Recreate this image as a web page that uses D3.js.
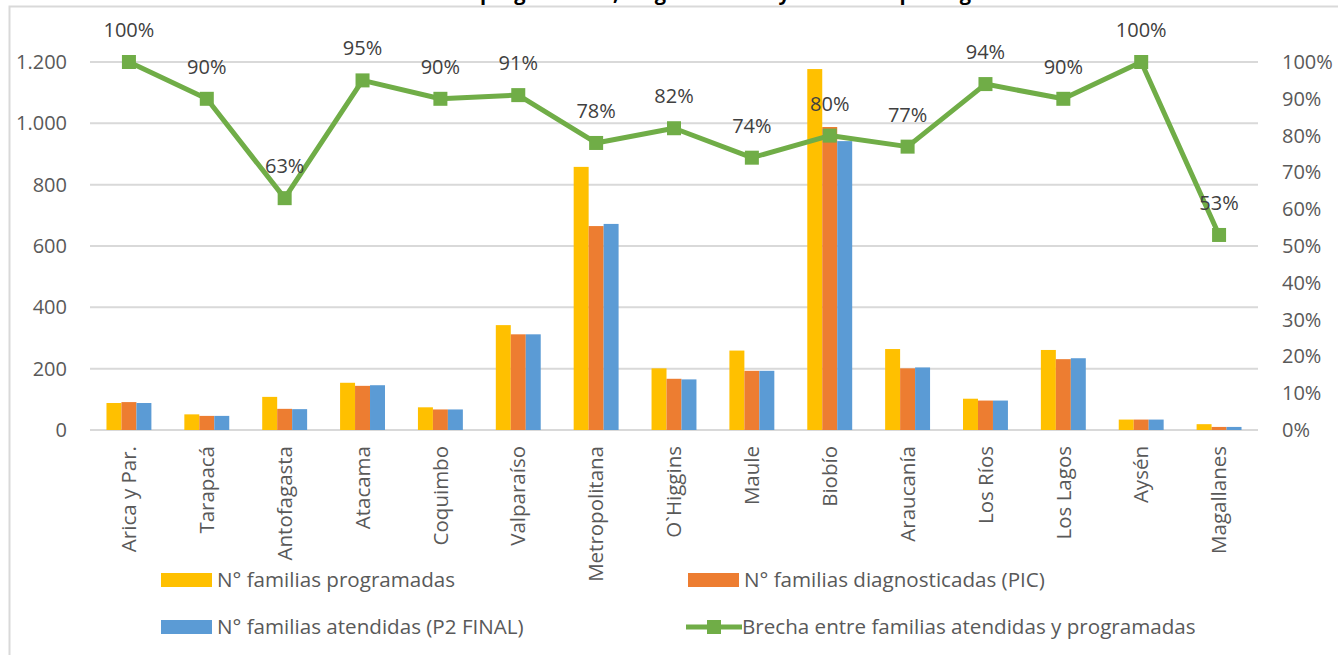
<!DOCTYPE html>
<html lang="es">

<head>
    <meta charset="UTF-8">
    <title>Familias por región</title>
    <script src="https://d3js.org/d3.v7.min.js"></script>
    <style>
        body {
            margin: 0;
            padding: 0;
            background-color: #fff;
            overflow: hidden;
        }

        #chart text {
            font-family: "Open Sans", sans-serif;
        }

        .tick-label {
            font-size: 20px;
            fill: #595959;
        }

        .cat-label {
            font-size: 20.5px;
            fill: #595959;
        }

        .data-label {
            font-size: 20px;
            fill: #404040;
            text-anchor: middle;
        }

        .legend-label {
            font-size: 20.6px;
            fill: #595959;
        }
    </style>
</head>

<body>
    <svg id="chart" width="1338" height="655"></svg>
    <script>
        // Chart data
        const regiones = ["Arica y Par.", "Tarapacá", "Antofagasta", "Atacama", "Coquimbo", "Valparaíso",
            "Metropolitana", "O`Higgins", "Maule", "Biobío", "Araucanía", "Los Ríos", "Los Lagos", "Aysén", "Magallanes"];
        const programadas = [88, 51, 108, 154, 74, 342, 858, 201, 259, 1177, 264, 102, 261, 34, 19];
        const diagnosticadas = [91, 46, 69, 144, 67, 312, 665, 167, 193, 988, 201, 96, 231, 34, 10];
        const atendidas = [88, 46, 68, 146, 67, 312, 672, 165, 193, 942, 204, 96, 234, 34, 10];
        const brecha = [1.00, 0.90, 0.63, 0.95, 0.90, 0.91, 0.78, 0.82, 0.74, 0.80, 0.77, 0.94, 0.90, 1.00, 0.53];
        const leftTicks = [0, 200, 400, 600, 800, 1000, 1200];
        const rightTicks = [0, 0.1, 0.2, 0.3, 0.4, 0.5, 0.6, 0.7, 0.8, 0.9, 1.0];

        const seriesNames = ["N° familias programadas", "N° familias diagnosticadas (PIC)", "N° familias atendidas (P2 FINAL)"];
        const lineName = "Brecha entre familias atendidas y programadas";
        const colors = ["#FFC000", "#ED7D31", "#5B9BD5"];
        const green = "#70AD47";
        const title = "N° de familias programadas, diagnosticadas y atendidas por región";

        const svg = d3.select("#chart");
        const plotLeft = 90, plotRight = 1258, plotTop = 62, plotBottom = 430;

        const x = d3.scaleBand().domain(regiones).range([plotLeft, plotRight]);
        const xSub = d3.scaleBand().domain(d3.range(3)).range([0, x.bandwidth()]).paddingOuter(1.1);
        const y = d3.scaleLinear().domain([0, 1200]).range([plotBottom, plotTop]);
        const y2 = d3.scaleLinear().domain([0, 1]).range([plotBottom, plotTop]);

        // title (cut off at the top, as in the original) and chart border
        svg.append("text")
            .attr("x", 669).attr("y", 0)
            .attr("text-anchor", "middle")
            .style("font-size", "20px").style("font-weight", "bold").style("fill", "#000")
            .text(title);
        svg.append("path")
            .attr("d", "M9.5,655 V6.5 H1338")
            .attr("fill", "none").attr("stroke", "#D9D9D9").attr("stroke-width", 2);

        // gridlines
        svg.append("g")
            .selectAll("line")
            .data(leftTicks)
            .join("line")
            .attr("x1", plotLeft).attr("x2", plotRight)
            .attr("y1", d => y(d)).attr("y2", d => y(d))
            .attr("stroke", "#D9D9D9").attr("stroke-width", 2);

        // left axis
        const yAxis = svg.append("g")
            .attr("transform", `translate(${plotLeft},0)`)
            .call(d3.axisLeft(y).tickValues(leftTicks).tickSize(0).tickPadding(23)
                .tickFormat(d => d3.format(",")(d).replace(",", ".")));
        yAxis.select(".domain").remove();
        yAxis.selectAll("text").attr("class", "tick-label").attr("fill", null);

        // right axis
        const y2Axis = svg.append("g")
            .attr("transform", `translate(${plotRight},0)`)
            .call(d3.axisRight(y2).tickValues(rightTicks).tickSize(0).tickPadding(24)
                .tickFormat(d3.format(".0%")));
        y2Axis.select(".domain").remove();
        y2Axis.selectAll("text").attr("class", "tick-label").attr("fill", null);

        // bars
        const series = [programadas, diagnosticadas, atendidas];
        series.forEach((vals, s) => {
            svg.append("g")
                .selectAll("rect")
                .data(vals)
                .join("rect")
                .attr("x", (d, i) => x(regiones[i]) + xSub(s))
                .attr("width", xSub.bandwidth())
                .attr("y", d => y(d))
                .attr("height", d => y(0) - y(d))
                .attr("fill", colors[s]);
        });

        // category labels
        svg.append("g")
            .selectAll("text")
            .data(regiones)
            .join("text")
            .attr("class", "cat-label")
            .attr("transform", d => `translate(${x(d) + x.bandwidth() / 2},446) rotate(-90)`)
            .attr("text-anchor", "end")
            .attr("dy", "0.35em")
            .text(d => d);

        // line series
        const cx = (d, i) => x(regiones[i]) + x.bandwidth() / 2;
        const line = d3.line().x(cx).y(d => y2(d));
        svg.append("path")
            .datum(brecha)
            .attr("d", line)
            .attr("fill", "none")
            .attr("stroke", green)
            .attr("stroke-width", 5)
            .attr("stroke-linejoin", "round");
        svg.append("g")
            .selectAll("rect")
            .data(brecha)
            .join("rect")
            .attr("x", (d, i) => cx(d, i) - 7)
            .attr("y", d => y2(d) - 7)
            .attr("width", 14).attr("height", 14)
            .attr("fill", green);
        svg.append("g")
            .selectAll("text")
            .data(brecha)
            .join("text")
            .attr("class", "data-label")
            .attr("x", cx)
            .attr("y", d => y2(d) - 25)
            .text(d => d3.format(".0%")(d));

        // legend
        const legendItems = [
            { name: seriesNames[0], type: "bar", color: colors[0], x: 161, y: 580 },
            { name: seriesNames[1], type: "bar", color: colors[1], x: 688, y: 580 },
            { name: seriesNames[2], type: "bar", color: colors[2], x: 161, y: 627 },
            { name: lineName, type: "line", color: green, x: 686, y: 627 }
        ];
        const legend = svg.append("g");
        legendItems.forEach(item => {
            const g = legend.append("g").attr("transform", `translate(${item.x},${item.y})`);
            if (item.type === "bar") {
                g.append("rect").attr("x", 0).attr("y", -7).attr("width", 51).attr("height", 14).attr("fill", item.color);
            } else {
                g.append("line").attr("x1", 0).attr("x2", 56).attr("y1", 0).attr("y2", 0)
                    .attr("stroke", item.color).attr("stroke-width", 5);
                g.append("rect").attr("x", 21).attr("y", -7).attr("width", 14).attr("height", 14).attr("fill", item.color);
            }
            g.append("text")
                .attr("class", "legend-label")
                .attr("x", 56)
                .attr("dy", "0.35em")
                .text(item.name);
        });
    </script>
</body>

</html>
